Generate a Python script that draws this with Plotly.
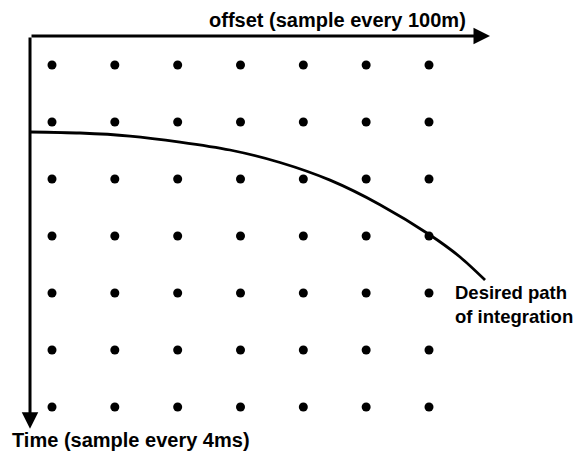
"""Sampling grid with desired integration path."""

import plotly.graph_objects as go

# grid of samples (offset index, time index)
offset_idx = [1, 2, 3, 4, 5, 6, 7]
time_idx = [1, 2, 3, 4, 5, 6, 7]

# desired path of integration (offset idx, time idx)
path_offset = [0.650, 1.446, 2.241, 3.037, 3.833, 4.629, 5.425, 6.220, 7.016, 7.494, 7.892]
path_time = [2.175, 2.193, 2.246, 2.351, 2.491, 2.710, 3.020, 3.450, 3.982, 4.368, 4.772]

axis_origin = (0.650, 0.491)
axis_x_end = 7.971
axis_y_end = 7.380

dot_x = [i for j in time_idx for i in offset_idx]
dot_y = [j for j in time_idx for i in offset_idx]

fig = go.Figure()
fig.add_trace(
    go.Scatter(
        x=dot_x,
        y=dot_y,
        mode="markers",
        marker=dict(size=9, color="black"),
        showlegend=False,
        hoverinfo="skip",
    )
)
fig.add_trace(
    go.Scatter(
        x=path_offset,
        y=path_time,
        mode="lines",
        line=dict(color="black", width=2.8, shape="spline", smoothing=0.8),
        showlegend=False,
        hoverinfo="skip",
    )
)

ox, oy = axis_origin
arrow_style = dict(
    xref="x", yref="y", axref="x", ayref="y", text="", showarrow=True,
    arrowhead=2, arrowsize=1.1, arrowwidth=3, arrowcolor="black",
)
fig.add_annotation(x=axis_x_end, y=oy, ax=ox, ay=oy, **arrow_style)
fig.add_annotation(x=ox, y=axis_y_end, ax=ox, ay=oy, **arrow_style)

label_font = dict(family="Liberation Sans, Arial, sans-serif", size=20, color="black")
fig.add_annotation(
    x=7.621, y=0.2105, xref="x", yref="y", text="<b>offset (sample every 100m)</b>",
    showarrow=False, xanchor="right", yanchor="middle", font=label_font,
)
fig.add_annotation(
    x=0.33, y=7.579, xref="x", yref="y", text="<b>Time (sample every 4ms)</b>",
    showarrow=False, xanchor="left", yanchor="middle", font=label_font,
)
fig.add_annotation(
    x=7.38, y=5.193, xref="x", yref="y", text="<b>Desired path<br>of integration</b>",
    showarrow=False, xanchor="left", yanchor="middle", align="left",
    font=dict(label_font, size=18.5),
)

fig.update_layout(
    width=575,
    height=444,
    margin=dict(l=0, r=0, t=0, b=0),
    plot_bgcolor="white",
    paper_bgcolor="white",
    xaxis=dict(range=[0.2997, 9.451], visible=False, fixedrange=True),
    yaxis=dict(range=[7.789, 0.0], visible=False, fixedrange=True),
)

fig.write_html("out.html")
